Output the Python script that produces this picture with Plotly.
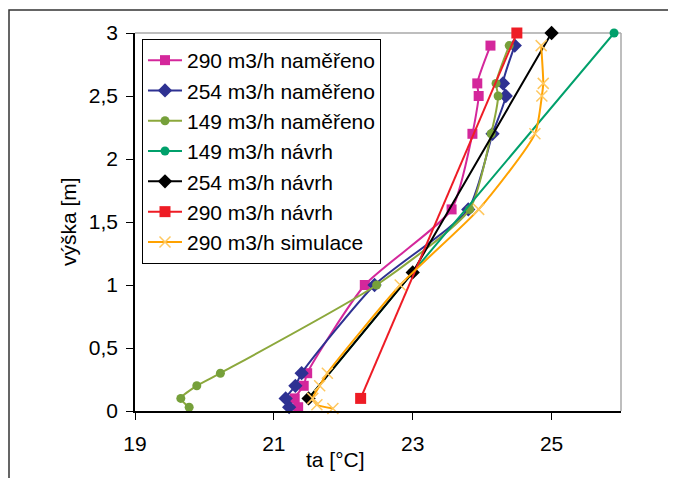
import plotly.graph_objects as go

# heights [m]
h_meas = [0.03, 0.1, 0.2, 0.3, 1.0, 1.6, 2.2, 2.5, 2.6, 2.9]
t_290_meas = [21.35, 21.30, 21.43, 21.48, 22.31, 23.56, 23.86, 23.95, 23.93, 24.12]
t_254_meas = [21.22, 21.17, 21.31, 21.40, 22.45, 23.80, 24.15, 24.34, 24.30, 24.47]
t_149_meas = [19.78, 19.66, 19.89, 20.23, 22.48, 23.82, 24.13, 24.23, 24.20, 24.39]

h_149_navrh = [0.1, 1.1, 3.0]
t_149_navrh = [21.5, 23.0, 25.9]
h_254_navrh = [0.1, 1.1, 3.0]
t_254_navrh = [21.5, 23.0, 25.0]
h_290_navrh = [0.1, 3.0]
t_290_navrh = [22.25, 24.5]

h_290_sim = [0.02, 0.05, 0.1, 0.2, 0.3, 1.0, 1.6, 2.2, 2.5, 2.6, 2.9]
t_290_sim = [21.85, 21.62, 21.56, 21.66, 21.77, 22.82, 23.95, 24.76, 24.86, 24.88, 24.85]

names = ["290 m3/h naměřeno", "254 m3/h naměřeno", "149 m3/h naměřeno",
         "149 m3/h návrh", "254 m3/h návrh", "290 m3/h návrh", "290 m3/h simulace"]

x_ticks = [19, 21, 23, 25]
y_ticks = [0, 0.5, 1, 1.5, 2, 2.5, 3]

FONT = "Arial, Liberation Sans, sans-serif"

# page body has an 8px margin, so the figure is 8px smaller and offset
L, T, PW, PH = 127, 25, 486, 378

fig = go.Figure()

def add(x, y, name, color, symbol, size, shape, mcolor=None, mline=None):
    fig.add_trace(go.Scatter(
        x=x, y=y, name=name, mode="lines+markers",
        line=dict(color=color, width=2, shape=shape, smoothing=0.6),
        marker=dict(symbol=symbol, size=size, color=mcolor or color,
                    line=mline or dict(width=0)),
        cliponaxis=False,
    ))

add(t_290_meas, h_meas, names[0], "#D4279B", "square", 10, "spline")
add(t_254_meas, h_meas, names[1], "#2E3192", "diamond", 11, "spline")
add(t_149_meas, h_meas, names[2], "#8CA83C", "circle", 9, "spline", mcolor="#76A03A")
add(t_149_navrh, h_149_navrh, names[3], "#00A06B", "circle", 9, "linear")
add(t_254_navrh, h_254_navrh, names[4], "#000000", "diamond", 11, "linear")
add(t_290_navrh, h_290_navrh, names[5], "#EE1C25", "square", 11, "linear")
add(t_290_sim, h_290_sim, names[6], "#FFA200", "x-thin", 11, "spline",
    mline=dict(color="#FFC860", width=1.5))

fig.update_layout(
    width=668, height=470,
    margin=dict(l=L, r=668 - L - PW, t=T, b=470 - T - PH, autoexpand=False),
    paper_bgcolor="white", plot_bgcolor="white",
    separators=", ",
    font=dict(family=FONT, size=21, color="black"),
    showlegend=True,
    legend=dict(x=7 / PW, y=1 - 6 / PH, xanchor="left", yanchor="top",
                bgcolor="white", bordercolor="black", borderwidth=1,
                font=dict(family=FONT, size=21, color="black"),
                itemwidth=34, tracegroupgap=0),
    xaxis=dict(range=[19, 26], tickvals=x_ticks, showgrid=False, zeroline=False,
               showline=True, linecolor="black", linewidth=1.5,
               ticks="outside", ticklen=7, tickcolor="black",
               tickfont=dict(size=21), ticklabelstandoff=6),
    yaxis=dict(range=[0, 3], tickvals=y_ticks, showgrid=False, zeroline=False,
               showline=True, linecolor="black", linewidth=1.5,
               ticks="outside", ticklen=7, tickcolor="black",
               tickfont=dict(size=21), ticklabelstandoff=4),
    annotations=[
        dict(text="ta [°C]", xref="paper", yref="paper",
             x=(335 - 135) / PW, y=-(460 - 411) / PH,
             xanchor="center", yanchor="middle", showarrow=False,
             font=dict(size=21)),
        dict(text="výška [m]", xref="paper", yref="paper",
             x=(68 - 135) / PW, y=0.5, textangle=-90,
             xanchor="center", yanchor="middle", showarrow=False,
             font=dict(size=21)),
    ],
    shapes=[
        # grey top and right plot border
        dict(type="line", xref="paper", yref="paper", x0=0, x1=1, y0=1, y1=1,
             line=dict(color="#A8A8A8", width=1.5), layer="below"),
        dict(type="line", xref="paper", yref="paper", x0=1, x1=1, y0=0, y1=1,
             line=dict(color="#A8A8A8", width=1.5), layer="below"),
        # outer image frame (left and top edges visible)
        dict(type="rect", xref="paper", yref="paper",
             x0=(9 - 135) / PW, x1=1.3, y0=-0.4, y1=1 + (33 - 10) / PH,
             line=dict(color="#333333", width=1.5), layer="below"),
    ],
)

fig.write_html("out.html")
